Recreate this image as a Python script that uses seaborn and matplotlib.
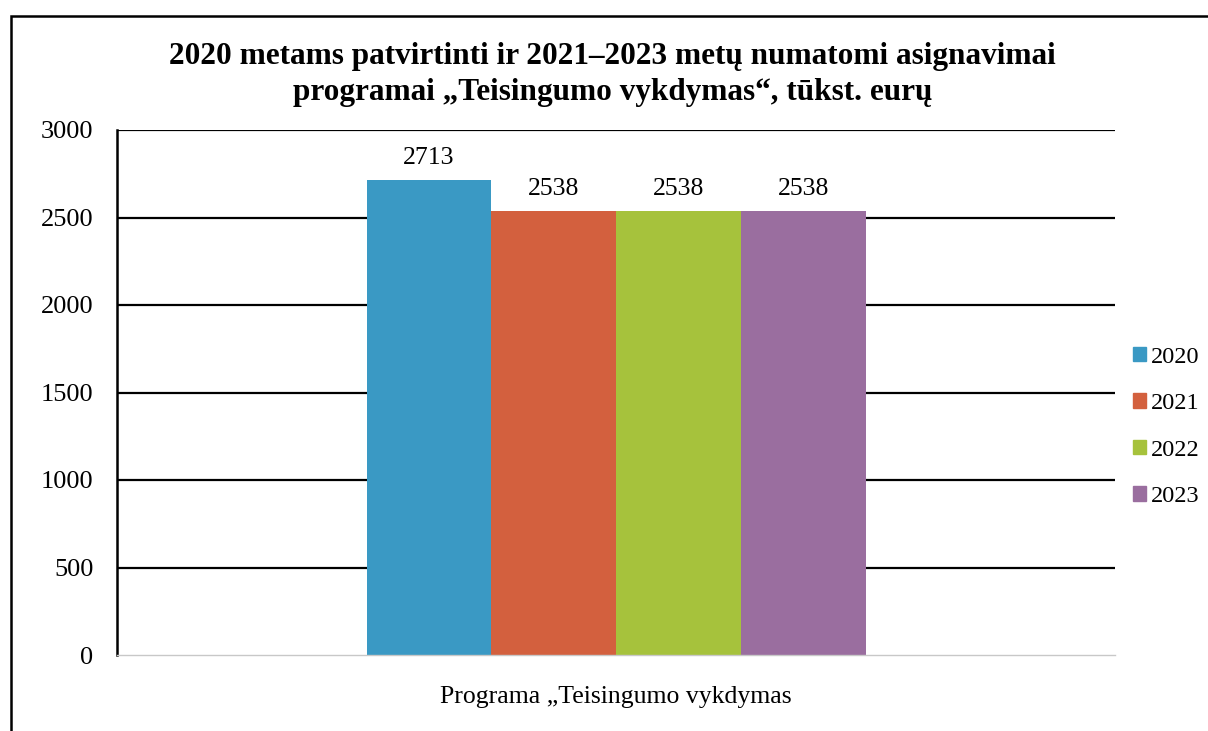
import matplotlib
matplotlib.use("Agg")
import matplotlib.pyplot as plt
import matplotlib.patches as mpatches
import seaborn as sns
import pandas as pd

categories = ["Programa „Teisingumo vykdymas"]
years = ["2020", "2021", "2022", "2023"]
values = [2713, 2538, 2538, 2538]
colors = ["#3a99c4", "#d3603e", "#a6c23c", "#9a6e9f"]
yticks = [0, 500, 1000, 1500, 2000, 2500, 3000]

sns.set_theme(style="white")
plt.rcParams['font.family'] = ['Liberation Serif', 'DejaVu Serif']
plt.rcParams['text.color'] = 'black'
plt.rcParams['xtick.color'] = 'black'
plt.rcParams['ytick.color'] = 'black'

df = pd.DataFrame({"cat": categories * len(years), "year": years, "value": values})

fig = plt.figure(figsize=(12.08, 7.31), dpi=100)
ax = fig.add_axes([117/1208, 1 - 655/731, (1115 - 117)/1208, (655 - 130)/731])

sns.barplot(data=df, x="cat", y="value", hue="year", palette=colors,
            width=0.5, saturation=1, ax=ax, legend=False, linewidth=0)
ax.set_xlim(-0.5, 0.5)
ax.set_ylim(0, 3000)
ax.set_yticks(yticks)
ax.set_yticklabels([str(t) for t in yticks], fontsize=19)
ax.tick_params(axis='x', labelsize=18.5, length=0, pad=22)
ax.tick_params(axis='y', length=0, pad=17)
ax.set_xlabel("")
ax.set_ylabel("")
ax.yaxis.grid(True, color="black", linewidth=1.6)
ax.yaxis.get_gridlines()[0].set_visible(False)
ax.set_axisbelow(True)
for s in ["top", "right"]:
    ax.spines[s].set_visible(False)
ax.spines["left"].set_color("black")
ax.spines["left"].set_linewidth(1.8)
ax.spines["bottom"].set_color("#c8c8c8")
ax.spines["bottom"].set_linewidth(1.0)

for c in ax.containers:
    ax.bar_label(c, labels=[f"{v:.0f}" for v in c.datavalues], padding=8, fontsize=18.5)

fig.suptitle("2020 metams patvirtinti ir 2021–2023 metų numatomi asignavimai\nprogramai „Teisingumo vykdymas“, tūkst. eurų",
             x=0.507, y=1 - 42/731, fontsize=22.5, fontweight="bold", linespacing=1.33)

handles = [mpatches.Patch(color=c, label=y) for c, y in zip(colors, years)]
fig.legend(handles=handles, loc="center left", bbox_to_anchor=(1133/1208, 1 - 427/731),
           frameon=False, fontsize=17.5, handlelength=0.55, handleheight=0.55,
           handletextpad=0.2, labelspacing=1.05, borderaxespad=0, borderpad=0)

border = mpatches.Rectangle((11/1208, -0.1), 1.2, 1.1 - 16/731, transform=fig.transFigure,
                            fill=False, edgecolor="black", linewidth=1.8, clip_on=False)
fig.patches.append(border)

fig.savefig("out.png", dpi=100)
